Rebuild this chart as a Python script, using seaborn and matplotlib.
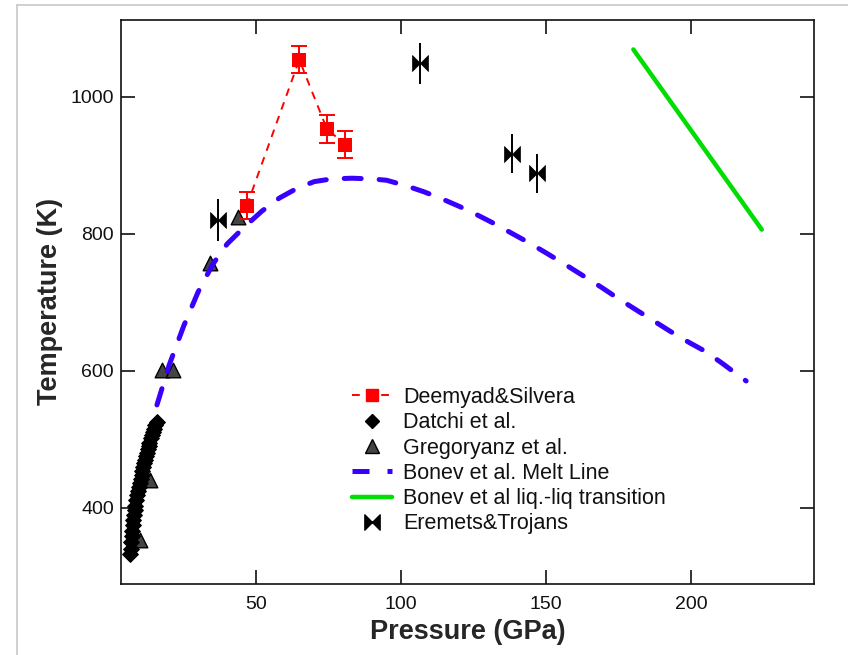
import numpy as np
import pandas as pd
import matplotlib
matplotlib.use("Agg")
import matplotlib.pyplot as plt
from matplotlib.lines import Line2D
from matplotlib.path import Path
import seaborn as sns

# ---------------- data ----------------
deemyad_P = [46.8, 64.9, 74.4, 80.7]
deemyad_T = [841, 1054, 953, 930]
deemyad_err = [20, 20, 20, 20]

datchi_P = [6.5, 6.7, 6.9, 7.1, 7.3, 7.5, 7.7, 7.9, 8.1, 8.4, 8.7, 9.0, 9.3, 9.6, 9.9,
            10.2, 10.5, 10.8, 11.1, 11.4, 11.7, 12.0, 12.3, 12.6, 12.9, 13.2, 13.6,
            14.0, 14.4, 14.8, 15.3, 15.8]
datchi_T = [332, 340, 350, 358, 366, 374, 382, 389, 396, 403, 411, 418, 424, 430, 436,
            442, 448, 453, 459, 465, 470, 475, 480, 485, 490, 495, 501, 506, 511, 515,
            520, 525]

greg_P = [9.8, 13.4, 17.7, 21.3, 34.1, 43.9]
greg_T = [353, 440, 601, 601, 757, 824]

bonev_P = [15.8, 20, 25, 30, 35, 40, 46, 52, 58, 64, 70, 76, 83, 90, 95, 101, 108, 114,
           120, 126, 132, 138, 144, 150, 157, 163, 169, 175, 181, 187, 193, 199, 205,
           211, 217, 219]
bonev_T = [550, 608, 665, 715, 755, 785, 810, 833, 852, 866, 876, 880, 881, 880, 878,
           871, 861, 851, 840, 828, 815, 801, 787, 772, 754, 738, 722, 705, 689, 673,
           657, 642, 628, 610, 591, 585]

llt_P = [180.1, 224.4]
llt_T = [1069, 806]

eremets_P = [37.0, 106.6, 138.2, 146.8]
eremets_T = [820, 1049, 917, 888]
eremets_err = [30, 30, 29, 29]

legend_labels = ["Deemyad&Silvera", "Datchi et al.", "Gregoryanz et al.",
                 "Bonev et al. Melt Line", "Bonev et al liq.-liq transition",
                 "Eremets&Trojans"]

# ---------------- style ----------------
sns.set_theme(style="ticks")
plt.rcParams["font.family"] = ["Liberation Sans", "DejaVu Sans"]

W, H = 848, 655
fig = plt.figure(figsize=(W / 100, H / 100), dpi=100)
fig.patch.set_facecolor("white")
ax = fig.add_axes([120.7 / W, 1 - 583.7 / H, (814 - 120.7) / W, (583.7 - 20) / H])
ax.set_facecolor("white")

RED = "#ff0000"
BLUE = "#3a00ff"
GREEN = "#00dd00"
GRAY = "#444444"

bowtie = Path([(-1, -1), (-1, 1), (1, -1), (1, 1), (-1, -1)],
              [Path.MOVETO, Path.LINETO, Path.LINETO, Path.LINETO, Path.CLOSEPOLY])

df_dee = pd.DataFrame({"P": deemyad_P, "T": deemyad_T})
df_dat = pd.DataFrame({"P": datchi_P, "T": datchi_T})
df_greg = pd.DataFrame({"P": greg_P, "T": greg_T})
df_bon = pd.DataFrame({"P": bonev_P, "T": bonev_T})
df_llt = pd.DataFrame({"P": llt_P, "T": llt_T})
df_ere = pd.DataFrame({"P": eremets_P, "T": eremets_T})

# Gregoryanz triangles (below diamonds)
sns.scatterplot(data=df_greg, x="P", y="T", marker="^", s=10.5 ** 2, color=GRAY,
                edgecolor="black", linewidth=1.0, ax=ax, zorder=3, legend=False)
# Datchi diamonds
sns.scatterplot(data=df_dat, x="P", y="T", marker="D", s=8 ** 2, color="black",
                edgecolor="black", linewidth=0.8, ax=ax, zorder=4, legend=False)

# Deemyad dashed line + squares + error bars
sns.lineplot(data=df_dee, x="P", y="T", color=RED, lw=1.4, dashes=False, ax=ax,
             zorder=4, sort=False, legend=False)
ax.lines[-1].set_dashes((4, 3.5))
ax.errorbar(deemyad_P, deemyad_T, yerr=deemyad_err, fmt="none", ecolor=RED,
            elinewidth=1.4, capsize=6, capthick=1.4, zorder=5)
sns.scatterplot(data=df_dee, x="P", y="T", marker="s", s=9.5 ** 2, color=RED,
                edgecolor=RED, linewidth=0, ax=ax, zorder=5, legend=False)

# Eremets bowties + error bars
ax.errorbar(eremets_P, eremets_T, yerr=eremets_err, fmt="none", ecolor="black",
            elinewidth=1.4, capsize=0, zorder=5)
sns.scatterplot(data=df_ere, x="P", y="T", marker=bowtie, s=11.5 ** 2, color="black",
                edgecolor="black", linewidth=0.5, ax=ax, zorder=5, legend=False)

# Bonev melt line
sns.lineplot(data=df_bon, x="P", y="T", color=BLUE, lw=3.6, ax=ax, zorder=6,
             sort=False, legend=False)
ax.lines[-1].set_dashes((3.4, 3.6))
ax.lines[-1].set_dash_capstyle("round")

# Bonev liquid-liquid transition
sns.lineplot(data=df_llt, x="P", y="T", color=GREEN, lw=3.2, ax=ax, zorder=6,
             sort=False, legend=False)

# ---------------- axes ----------------
ax.set_xlim(3.3, 242.4)
ax.set_ylim(289, 1112)
ax.set_xticks([50, 100, 150, 200])
ax.set_yticks([400, 600, 800, 1000])
ax.tick_params(axis="both", direction="in", length=10, width=1.2, color="#111111",
               labelsize=14, labelcolor="#111111", top=True, right=True)
ax.tick_params(axis="x", pad=9)
ax.tick_params(axis="y", pad=5)
for sp in ax.spines.values():
    sp.set_visible(True)
    sp.set_linewidth(1.2)
    sp.set_color("#111111")
ax.set_xlabel("Pressure (GPa)", fontsize=19.5, fontweight="bold", labelpad=4)
ax.set_ylabel("Temperature (K)", fontsize=19.5, fontweight="bold", labelpad=5)
ax.grid(False)

# ---------------- legend ----------------
handles = [
    Line2D([], [], color=RED, lw=1.4, ls=(0, (4, 3.5)), marker="s", ms=9,
           markerfacecolor=RED, markeredgecolor=RED),
    Line2D([], [], ls="none", marker="D", ms=7, color="black"),
    Line2D([], [], ls="none", marker="^", ms=10, markerfacecolor=GRAY,
           markeredgecolor="black", markeredgewidth=1.0),
    Line2D([], [], color=BLUE, lw=3.6, ls=(0, (3.4, 3.6))),
    Line2D([], [], color=GREEN, lw=3.2),
    Line2D([], [], ls="none", marker=bowtie, ms=11, color="black"),
]
leg = ax.legend(handles, legend_labels, loc="upper left",
                bbox_to_anchor=(0.333, 0.349), frameon=False, fontsize=15.5,
                handlelength=1.9, handletextpad=0.5, labelspacing=0.2,
                borderpad=0, borderaxespad=0)
for t in leg.get_texts():
    t.set_color("#111111")

# thin gray page frame
fig.add_artist(Line2D([16.5 / W, 1], [1 - 5 / H, 1 - 5 / H], color="#c8c8c8", lw=1.2))
fig.add_artist(Line2D([16.5 / W, 16.5 / W], [0, 1 - 5 / H], color="#c8c8c8", lw=1.2))

fig.savefig("out.png", dpi=100, facecolor="white")
